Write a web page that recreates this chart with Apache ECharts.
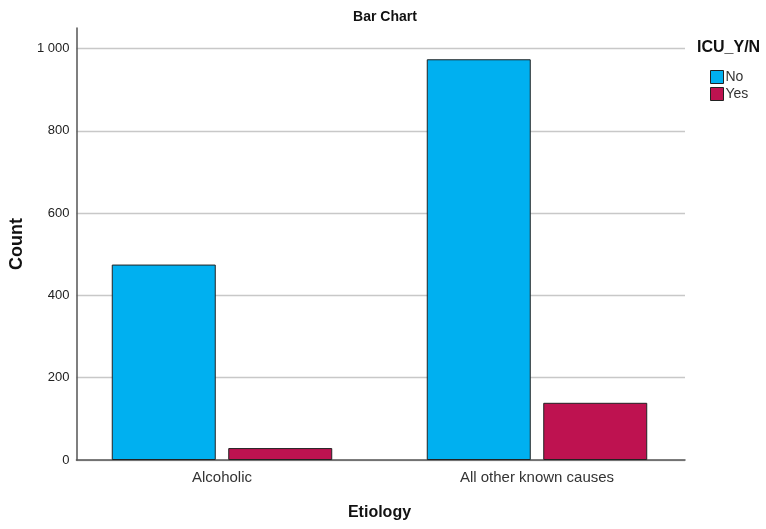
<!DOCTYPE html>
<html>
<head>
<meta charset="utf-8">
<script src="https://cdn.jsdelivr.net/npm/echarts@6/dist/echarts.min.js"></script>
<style>html,body{margin:0;padding:0;background:#fff;}#c{width:766px;height:529px;}</style>
</head>
<body>
<div id="c"></div>
<script>
const categories = ["Alcoholic", "All other known causes"];
const seriesNames = ["No", "Yes"];
const noValues = [475, 974];
const yesValues = [29, 139];
const yTicks = [0, 200, 400, 600, 800, 1000];

const FONT = "Liberation Sans, Arial, sans-serif";
const chart = echarts.init(document.getElementById('c'), null, {renderer: 'canvas'});
const fmt = v => String(v).replace(/\B(?=(\d{3})+(?!\d))/g, ' ');

chart.setOption({
  animation: false,
  backgroundColor: '#fff',
  textStyle: {fontFamily: FONT},
  title: [
    {text: 'Bar Chart', left: 380, top: 5, textAlign: 'center',
     textStyle: {fontSize: 14, fontWeight: 'bold', color: '#111', fontFamily: FONT}},
    {text: 'ICU_Y/N', left: 692, top: 35,
     textStyle: {fontSize: 16, fontWeight: 'bold', color: '#111', fontFamily: FONT}}
  ],
  legend: {
    orient: 'vertical', left: 705, top: 65, itemWidth: 13, itemHeight: 13, itemGap: 3,
    icon: 'rect', data: seriesNames,
    textStyle: {fontSize: 14, color: '#333', fontFamily: FONT, padding: [0,0,0,-3]},
    itemStyle: {borderColor: '#222', borderWidth: 1}
  },
  grid: [
    {left: 75, top: 28, width: 610, height: 432},
    {left: 64.5, top: 28, width: 630, height: 432}
  ],
  xAxis: [
    {gridIndex: 0, type: 'value', min: 0, max: 1,
     axisLine: {show: true, lineStyle: {color: '#555', width: 1.5}},
     axisTick: {show: false}, axisLabel: {show: false}, splitLine: {show: false}},
    {gridIndex: 1, type: 'category', data: categories,
     axisLine: {show: false}, axisTick: {show: false},
     axisLabel: {fontSize: 15, color: '#333', margin: 10, fontFamily: FONT},
     name: 'Etiology', nameLocation: 'middle', nameGap: 45,
     nameTextStyle: {fontSize: 16, fontWeight: 'bold', color: '#111', fontFamily: FONT}}
  ],
  yAxis: [
    {gridIndex: 0, type: 'value', min: 0, max: 1050, interval: 200,
     axisLine: {show: true, lineStyle: {color: '#555', width: 1.5}},
     axisTick: {show: false},
     axisLabel: {fontSize: 13, color: '#222', margin: 7, fontFamily: FONT,
       showMaxLabel: false, padding: [5, 0, 0, 0],
       formatter: v => yTicks.indexOf(v) >= 0 ? fmt(v) : ''},
     splitLine: {show: true, showMaxLine: false, lineStyle: {color: '#c8c8c8', width: 1.3}},
     name: 'Count', nameLocation: 'middle', nameGap: 48,
     nameTextStyle: {fontSize: 18, fontWeight: 'bold', color: '#111', fontFamily: FONT}},
    {gridIndex: 1, type: 'value', min: 0, max: 1050, show: false,
     splitLine: {show: false}}
  ],
  series: [
    {name: seriesNames[0], type: 'bar', xAxisIndex: 1, yAxisIndex: 1, data: noValues,
     barWidth: 104, barGap: '12%',
     itemStyle: {color: '#00b0f0', borderColor: '#222', borderWidth: 1}},
    {name: seriesNames[1], type: 'bar', xAxisIndex: 1, yAxisIndex: 1, data: yesValues,
     barWidth: 104, barGap: '12%',
     itemStyle: {color: '#be1250', borderColor: '#222', borderWidth: 1}}
  ]
});
</script>
</body>
</html>
